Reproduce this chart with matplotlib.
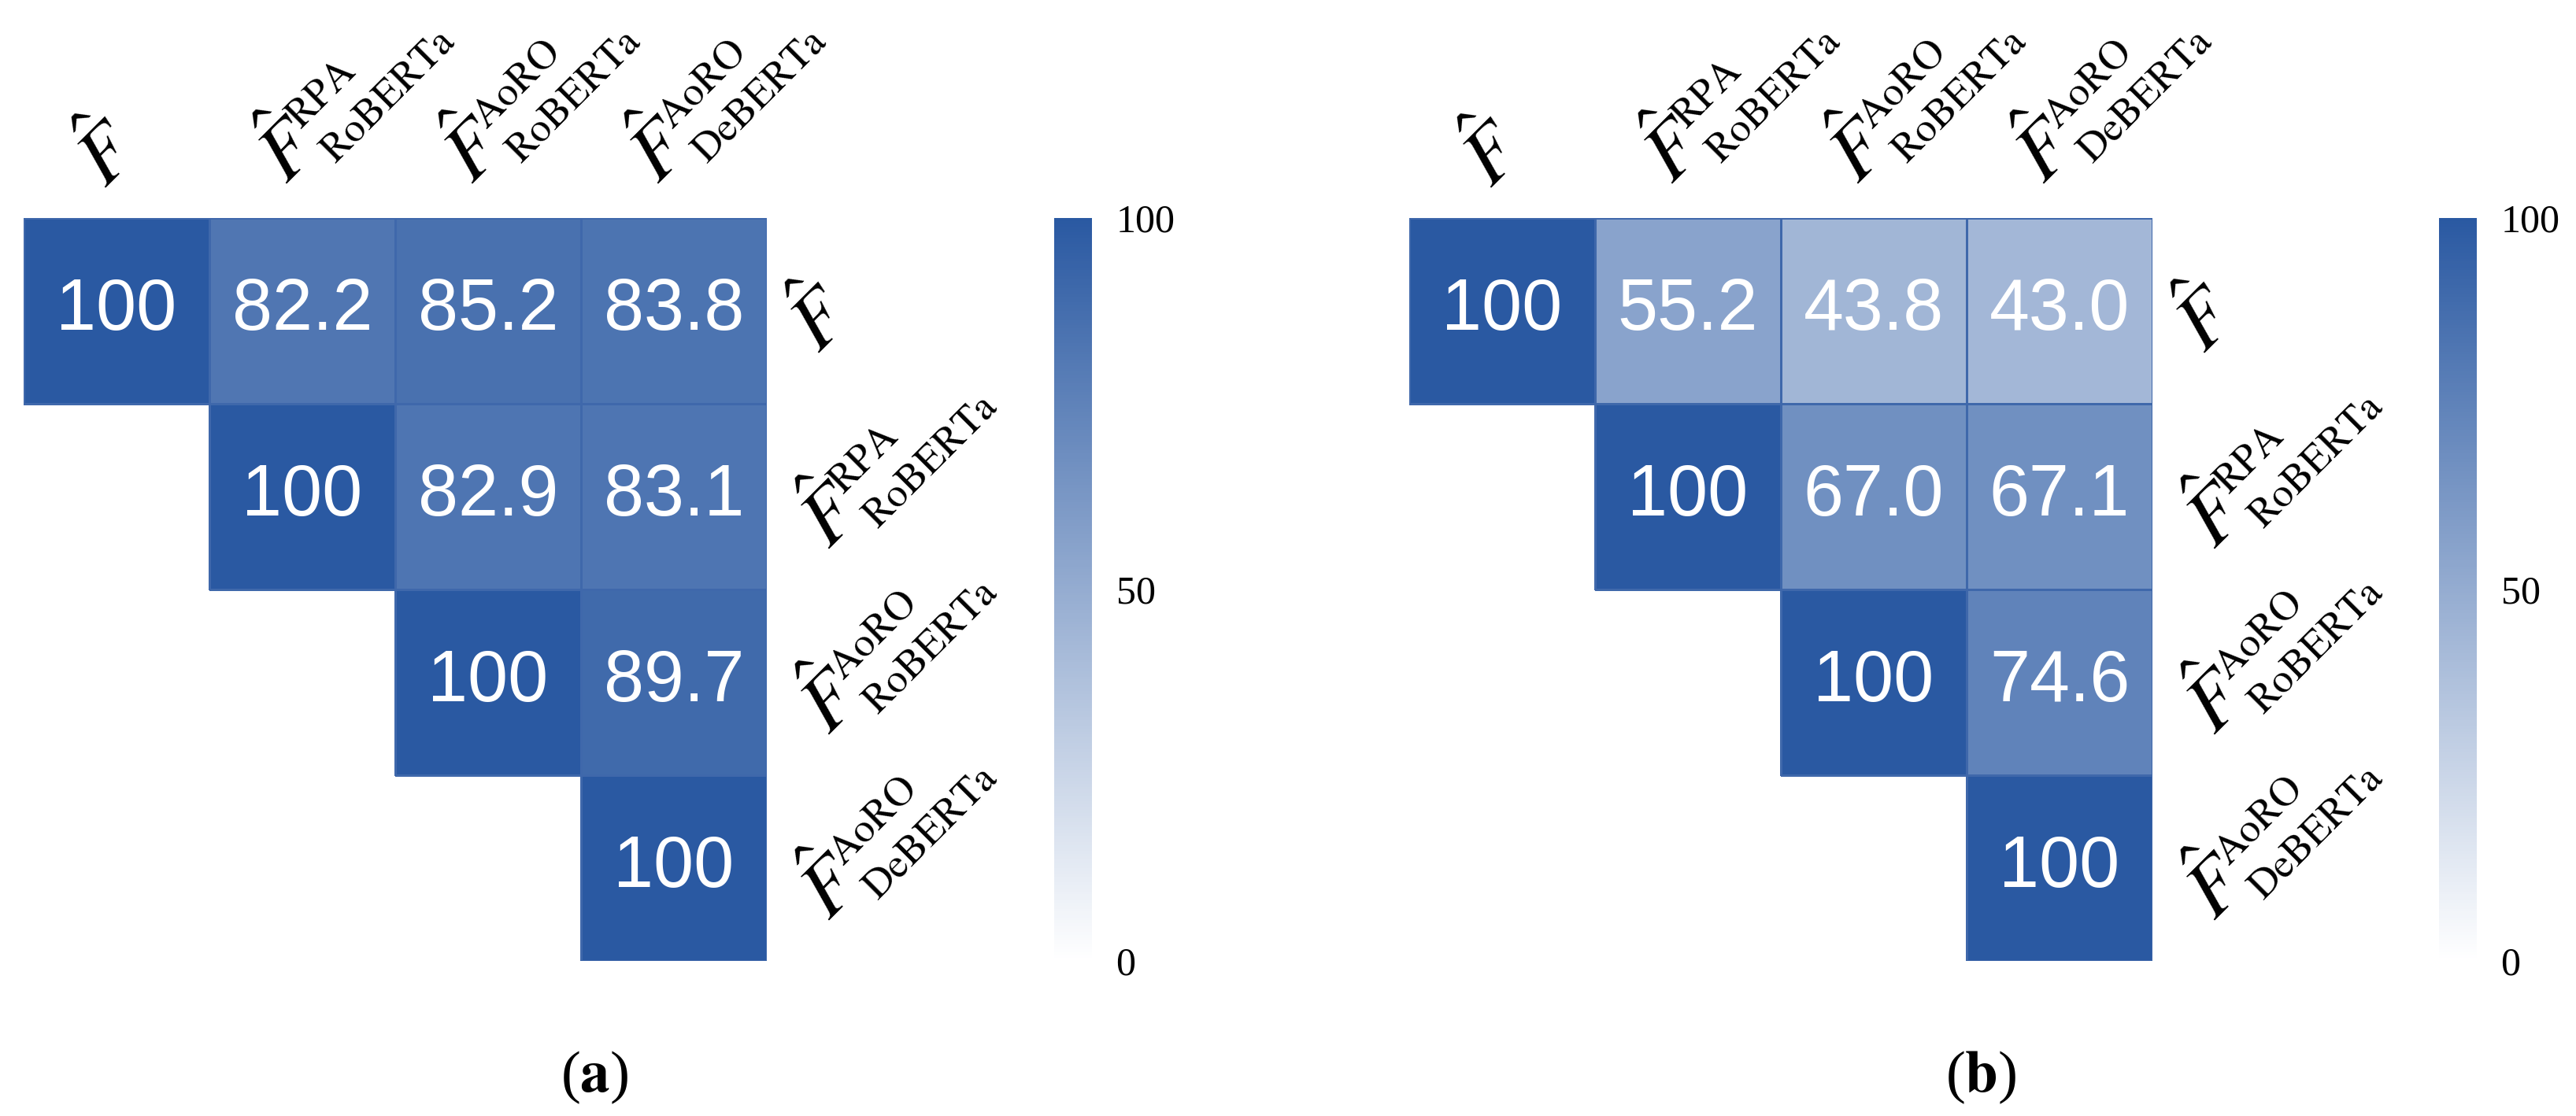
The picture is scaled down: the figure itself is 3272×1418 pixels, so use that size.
import numpy as np
import matplotlib
matplotlib.use('Agg')
import matplotlib.pyplot as plt
import matplotlib._mathtext as mathtext_interno
import seaborn as sns
from matplotlib.colors import LinearSegmentedColormap

plt.rcParams['font.family'] = ['Liberation Serif', 'DejaVu Serif']
plt.rcParams['mathtext.fontset'] = 'stix'
# sub/superindices mas pequenos, como en LaTeX a tamano grande
mathtext_interno.SHRINK_FACTOR = 0.52

# etiquetas de filas/columnas
etiquetas = [r'$\hat{F}$',
             r'$\hat{F}^{\mathrm{RPA}}_{\mathrm{RoBERTa}}$',
             r'$\hat{F}^{\mathrm{AoRO}}_{\mathrm{RoBERTa}}$',
             r'$\hat{F}^{\mathrm{AoRO}}_{\mathrm{DeBERTa}}$']

nan = np.nan
# (a) matriz triangular superior
valores_a = [[100, 82.2, 85.2, 83.8],
             [nan, 100, 82.9, 83.1],
             [nan, nan, 100, 89.7],
             [nan, nan, nan, 100]]
# (b)
valores_b = [[100, 55.2, 43.8, 43.0],
             [nan, 100, 67.0, 67.1],
             [nan, nan, 100, 74.6],
             [nan, nan, nan, 100]]
subtitulos = [r'($\mathbf{a}$)', r'($\mathbf{b}$)']

cmap = LinearSegmentedColormap.from_list('azul', ['#ffffff', '#2a59a2'])

W, H = 3273, 1418
fig = plt.figure(figsize=(W / 100, H / 100), dpi=100)


def px(x0, y0, w, h):
    return [x0 / W, 1 - (y0 + h) / H, w / W, h / H]


def textos(m):
    out = []
    for fila in m:
        f = []
        for v in fila:
            if np.isnan(v):
                f.append('')
            elif v == 100:
                f.append('100')
            else:
                f.append('{:.1f}'.format(v))
        out.append(f)
    return np.array(out)


paneles = [(valores_a, 30, 1339, 755), (valores_b, 1790, 3098, 2516)]
for k, (vals, x0, xc, xt) in enumerate(paneles):
    ax = fig.add_axes(px(x0, 277, 944, 944))
    cax = fig.add_axes(px(xc, 277, 48, 944))
    datos = np.array(vals, dtype=float)
    sns.heatmap(datos, ax=ax, cbar_ax=cax, cmap=cmap, vmin=0, vmax=100,
                annot=textos(vals), fmt='',
                annot_kws=dict(fontsize=66, color='white', family='Liberation Sans'),
                linewidths=1, linecolor='#3f68ab',
                xticklabels=etiquetas, yticklabels=etiquetas)
    # sin bordes en las celdas vacias
    malla = ax.collections[0]
    bordes = np.array([[0.247, 0.408, 0.671, 0.0 if np.isnan(v) else 1.0]
                       for v in datos.ravel()])
    malla.set_edgecolors(bordes)

    ax.xaxis.tick_top()
    ax.yaxis.tick_right()
    ax.set_xticklabels(etiquetas, rotation=45, ha='left', va='bottom',
                       rotation_mode='anchor', fontsize=72)
    ax.set_yticklabels(etiquetas, rotation=45, ha='left', va='top',
                       rotation_mode='anchor', fontsize=72)
    ax.tick_params(axis='x', length=0, pad=16)
    ax.tick_params(axis='y', length=0, pad=8)

    cbar = malla.colorbar
    cbar.outline.set_visible(False)
    cbar.set_ticks([0, 50, 100])
    cbar.ax.tick_params(length=0, labelsize=36, pad=22)

    fig.text(xt / W, 1 - 1369 / H, subtitulos[k], ha='center', va='center', fontsize=54)

plt.savefig('out.png', dpi=100)
